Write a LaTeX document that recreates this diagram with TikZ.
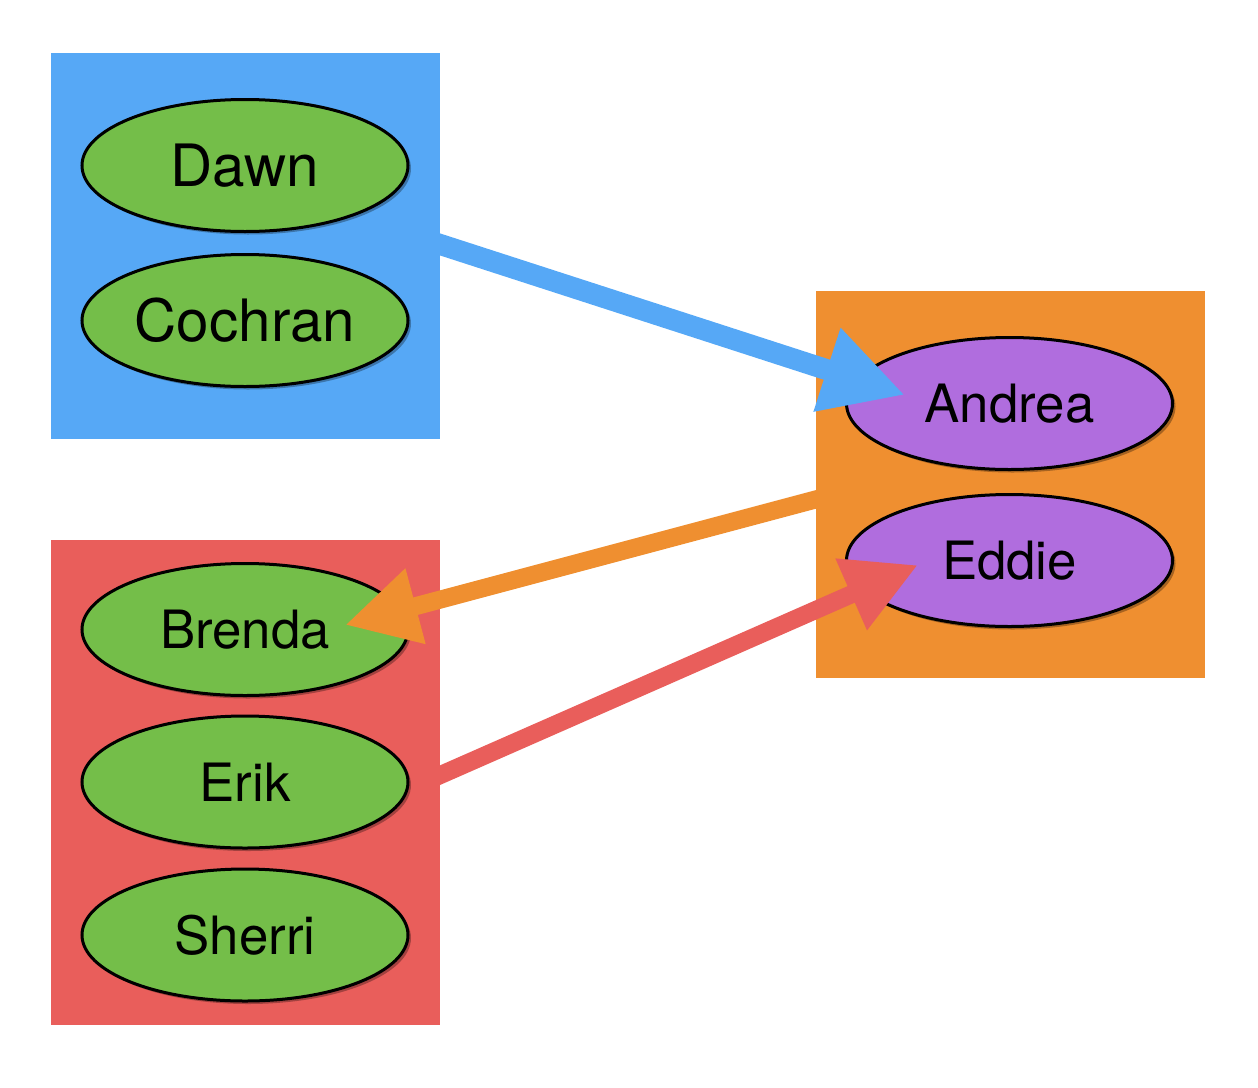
\documentclass[tikz,border=0pt]{standalone}
\usepackage{fontspec}
\setmainfont{TeX Gyre Heros}
\usetikzlibrary{arrows.meta}
\usetikzlibrary{calc}
\usetikzlibrary{shapes.geometric}
\usetikzlibrary{shadows}

\definecolor{groupblue}{RGB}{86,168,246}
\definecolor{groupred}{RGB}{233,94,91}
\definecolor{grouporange}{RGB}{239,143,48}
\definecolor{persongreen}{RGB}{116,190,73}
\definecolor{personpurple}{RGB}{176,109,222}

\begin{document}
\begin{tikzpicture}[x=0.5pt,y=-0.5pt,
  group/.style={rectangle,inner sep=0pt,minimum width=194.5pt},
  person/.style={ellipse,draw=black,line width=1.5pt,inner sep=0pt,minimum width=163pt,minimum height=66pt,
    drop shadow={shadow xshift=1.5pt,shadow yshift=-1.5pt,opacity=0.3,fill=black}},
  bigname/.style={font=\fontsize{29.2pt}{35pt}\selectfont},
  smallname/.style={font=\fontsize{26.4pt}{32pt}\selectfont},
  link/.style={line width=9pt,-{Triangle[length=36.5pt,width=36.5pt]}}]
\useasboundingbox (0,0) rectangle (1258,1087);
% groups
\node[group,fill=groupblue,minimum height=193pt] (bluebox) at (245.5,246) {};
\node[group,fill=groupred,minimum height=242.5pt] (redbox) at (245.5,782.5) {};
\node[group,fill=grouporange,minimum height=193.5pt] (orangebox) at (1010.5,484.5) {};
% people
\node[person,fill=persongreen,bigname] (dawn) at (245,165.5) {Dawn};
\node[person,fill=persongreen,bigname] (cochran) at (245,320.5) {Cochran};
\node[person,fill=persongreen,smallname] (brenda) at (245,629.5) {Brenda};
\node[person,fill=persongreen,smallname] (erik) at (245,782) {Erik};
\node[person,fill=persongreen,smallname] (sherri) at (245,935) {Sherri};
\node[person,fill=personpurple,smallname] (andrea) at (1009.5,403.5) {Andrea};
\node[person,fill=personpurple,smallname] (eddie) at (1009.5,560.5) {Eddie};
% arrow tips
\coordinate (andreatip) at ($(andrea)+(-104.5,-8.5)$);
\coordinate (brendatip) at ($(brenda)+(100,-4.5)$);
\coordinate (eddietip) at ($(eddie)+(-91.5,4.5)$);
% links
\draw[link,groupblue,line width=10.5pt,-{Triangle[length=41pt,width=41pt]}] ($(bluebox.east)+(-10,-4.7)$) -- (andreatip);
\draw[link,grouporange] ($(orangebox.west)+(10,12.3)$) -- (brendatip);
\draw[link,groupred] ($(redbox.east)+(-10,-3.1)$) -- (eddietip);
\end{tikzpicture}
\end{document}
